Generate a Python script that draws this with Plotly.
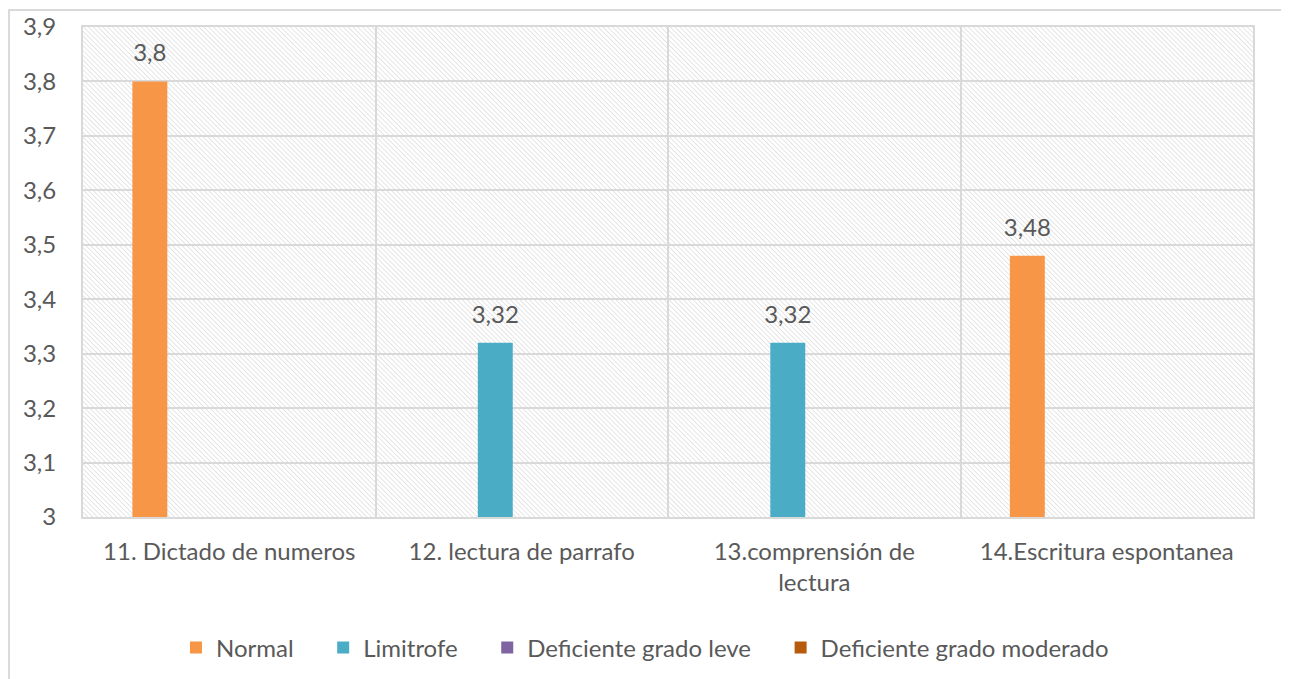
import base64
import plotly.graph_objects as go

# -------------------------
# DATA
# -------------------------
categories = [
    "11. Dictado de numeros",
    "12. lectura de parrafo",
    "13.comprensión de<br>lectura",
    "14.Escritura espontanea",
]
normal = [3.8, None, None, 3.48]
limitrofe = [None, 3.32, 3.32, None]
def_leve = [None, None, None, None]
def_moderado = [None, None, None, None]

series = [
    ("Normal", normal, "#F79646"),
    ("Limitrofe", limitrofe, "#4BACC6"),
    ("Deficiente grado leve", def_leve, "#8064A2"),
    ("Deficiente grado moderado", def_moderado, "#B65A0C"),
]

FONT = "Lato"
SIZE = 24
GREY = "#595959"
LINE = "#D9D9D9"
GAP = 0.276
PAD = "\u00a0" * 4  # extra room after each legend entry

# hatched background for the plot area
svg = (
    '<svg xmlns="http://www.w3.org/2000/svg" width="1170" height="490">'
    '<defs><pattern id="h" width="3.4" height="3.4" patternUnits="userSpaceOnUse" '
    'patternTransform="rotate(-45)">'
    '<line x1="0" y1="0" x2="0" y2="3.4" stroke="#D0D0D0" stroke-width="1.1"/>'
    '</pattern></defs>'
    '<rect width="100%" height="100%" fill="white"/>'
    '<rect width="100%" height="100%" fill="url(#h)"/></svg>'
)
hatch = "data:image/svg+xml;base64," + base64.b64encode(svg.encode()).decode()

fig = go.Figure()
for name, vals, color in series:
    fig.add_trace(go.Bar(
        x=categories,
        y=vals,
        name=name + PAD,
        marker=dict(color=color, line=dict(width=0)),
        hovertemplate=name + ": %{y}<extra></extra>",
    ))

# value labels: grouped scatter text so they sit over each bar slot
for i, (name, vals, color) in enumerate(series):
    fig.add_trace(go.Scatter(
        x=categories,
        y=vals,
        mode="markers+text",
        texttemplate="%{y}",
        textposition="top center",
        textfont=dict(family=FONT, size=SIZE, color=GREY),
        marker=dict(size=21, color="rgba(0,0,0,0)"),
        orientation="v",
        offsetgroup="s%d" % i,
        alignmentgroup="labels",
        showlegend=False,
        hoverinfo="skip",
        cliponaxis=False,
    ))

# page body has an 8px margin, so shift the plot area back by 8px
fig.update_layout(
    width=1289,
    height=679,
    margin=dict(l=75, r=44, t=19, b=170),
    paper_bgcolor="white",
    plot_bgcolor="rgba(0,0,0,0)",
    separators=",.",
    barmode="group",
    bargap=GAP,
    bargroupgap=0.34,
    scattermode="group",
    scattergap=GAP,
    font=dict(family=FONT, size=SIZE, color=GREY),
    showlegend=True,
    legend=dict(
        orientation="h",
        x=0.491, xanchor="center",
        y=-0.267, yanchor="middle",
        font=dict(family=FONT, size=SIZE, color=GREY),
        itemwidth=30,
    ),
    images=[dict(
        source=hatch, xref="paper", yref="paper",
        x=0, y=1, sizex=1, sizey=1,
        xanchor="left", yanchor="top",
        sizing="stretch", layer="below",
    )],
    shapes=[dict(
        type="rect", xref="paper", yref="paper",
        x0=-0.0632, x1=1.05, y0=-0.40, y1=1.0347,
        line=dict(color=LINE, width=2), fillcolor="rgba(0,0,0,0)",
        layer="below",
    )],
)

fig.update_xaxes(
    tickson="boundaries",
    showgrid=True, gridcolor=LINE, gridwidth=2,
    showline=True, linecolor=LINE, linewidth=2, mirror=True,
    ticks="", ticklabelstandoff=12, automargin=False,
)
fig.update_yaxes(
    range=[3, 3.9],
    dtick=0.1,
    tick0=3,
    showgrid=True, gridcolor=LINE, gridwidth=2,
    showline=True, linecolor=LINE, linewidth=2, mirror=True,
    zeroline=False,
    ticks="", ticklabelstandoff=20, automargin=False,
)

fig.write_html("out.html")
